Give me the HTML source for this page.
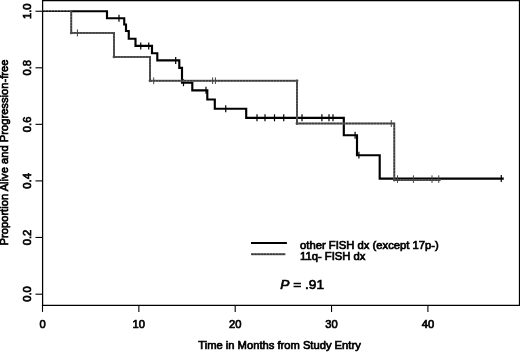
<!DOCTYPE html>
<html>
<head>
<meta charset="utf-8">
<title>Kaplan-Meier</title>
<style>
html,body{margin:0;padding:0;background:#fff;}
body{width:520px;height:352px;overflow:hidden;}
svg{display:block;will-change:transform;transform:translateZ(0);}
text{font-family:"Liberation Sans",Arial,Helvetica,sans-serif;fill:#000;stroke:#000;stroke-width:0.7px;}
</style>
</head>
<body>
<svg width="520" height="352" viewBox="0 0 520 352">
<rect x="0" y="0" width="520" height="352" fill="#fff"/>
<!-- frame -->
<g stroke="#000" stroke-width="1.25" fill="none">
<line x1="42.6" y1="0" x2="42.6" y2="305.4"/>
<line x1="41.9" y1="305.4" x2="520" y2="305.4"/>
<line x1="42" y1="0.5" x2="520" y2="0.5"/>
<line x1="519.5" y1="0" x2="519.5" y2="305.4"/>
</g>
<!-- y ticks -->
<g stroke="#000" stroke-width="1.1">
<line x1="35.5" y1="11.25" x2="42.5" y2="11.25"/>
<line x1="35.5" y1="67.8" x2="42.5" y2="67.8"/>
<line x1="35.5" y1="124.35" x2="42.5" y2="124.35"/>
<line x1="35.5" y1="180.9" x2="42.5" y2="180.9"/>
<line x1="35.5" y1="237.45" x2="42.5" y2="237.45"/>
<line x1="35.5" y1="294.2" x2="42.5" y2="294.2"/>
<!-- x ticks -->
<line x1="42.5" y1="305" x2="42.5" y2="311.9"/>
<line x1="138.85" y1="305" x2="138.85" y2="311.9"/>
<line x1="235.2" y1="305" x2="235.2" y2="311.9"/>
<line x1="331.55" y1="305" x2="331.55" y2="311.9"/>
<line x1="427.9" y1="305" x2="427.9" y2="311.9"/>
</g>
<!-- y tick labels -->
<g font-size="11.2" text-anchor="middle">
<text transform="translate(31,11.25) rotate(-90)">1.0</text>
<text transform="translate(31,67.8) rotate(-90)">0.8</text>
<text transform="translate(31,124.35) rotate(-90)">0.6</text>
<text transform="translate(31,180.9) rotate(-90)">0.4</text>
<text transform="translate(31,237.45) rotate(-90)">0.2</text>
<text transform="translate(31,294) rotate(-90)">0.0</text>
<text transform="translate(8.2,152.5) rotate(-90)">Proportion Alive and Progression-free</text>
<!-- x tick labels -->
<text x="42.5" y="327.9">0</text>
<text x="138.85" y="327.9">10</text>
<text x="235.2" y="327.9">20</text>
<text x="331.55" y="327.9">30</text>
<text x="427.9" y="327.9">40</text>
<text x="279.5" y="349">Time in Months from Study Entry</text>
</g>
<!-- black curve -->
<g stroke="#000" fill="none">
<path stroke-width="2.15" stroke-linejoin="miter" d="M70.6,11.25 H107 V18.25 H124.25 V24.5 H126 V31 H128.75 V38.75 H135.5 V45.9 H152 V53.2 H157.3 V60.4 H179.3 V67.9 H182 V82.7 H192.3 V90.3 H207.3 V99.5 H214.8 V108.75 H246.2 V117.8 H343.8 V135.2 H357 V155.2 H379.7 V178.6 H503.75"/>
<g stroke-width="1.2">
<line x1="119" y1="14.75" x2="119" y2="21.75"/>
<line x1="140.75" y1="42.4" x2="140.75" y2="49.4"/>
<line x1="148.75" y1="42.4" x2="148.75" y2="49.4"/>
<line x1="175.7" y1="56.9" x2="175.7" y2="63.9"/>
<line x1="183.5" y1="79.2" x2="183.5" y2="86.2"/>
<line x1="206" y1="86.8" x2="206" y2="93.8"/>
<line x1="225.75" y1="105.25" x2="225.75" y2="112.25"/>
<line x1="257" y1="114.3" x2="257" y2="121.3"/>
<line x1="265" y1="114.3" x2="265" y2="121.3"/>
<line x1="274.5" y1="114.3" x2="274.5" y2="121.3"/>
<line x1="283.75" y1="114.3" x2="283.75" y2="121.3"/>
<line x1="302" y1="114.3" x2="302" y2="121.3"/>
<line x1="321.9" y1="114.3" x2="321.9" y2="121.3"/>
<line x1="329" y1="114.3" x2="329" y2="121.3"/>
<line x1="333" y1="114.3" x2="333" y2="121.3"/>
<line x1="355.1" y1="131.7" x2="355.1" y2="138.7"/>
<line x1="358.9" y1="151.7" x2="358.9" y2="158.5"/>
<line x1="501.25" y1="175.1" x2="501.25" y2="182.1"/>
</g>
</g>
<!-- gray curve -->
<line x1="42.5" y1="11.25" x2="71" y2="11.25" stroke="#444" stroke-width="1.5"/>
<line x1="42.5" y1="11.25" x2="71" y2="11.25" stroke="#111" stroke-width="1.5" stroke-dasharray="2.4 0.7"/>
<g stroke="#444" fill="none">
<path stroke="#686868" stroke-width="2" d="M71.25,10.5 V32.9 H114 V56.9 H150 V80.8 H297 V123.5 H394.3 V180 H440.5"/>
<path stroke="#3c3c3c" stroke-width="1.4" stroke-dasharray="2.4 0.7" d="M71.25,10.5 V32.9 H114 V56.9 H150 V80.8 H297 V123.5 H394.3 V180 H440.5"/>
<g stroke-width="1">
<line x1="77.4" y1="29.4" x2="77.4" y2="36.4"/>
<line x1="153.7" y1="77.4" x2="153.7" y2="84.2"/>
<line x1="212.6" y1="77.4" x2="212.6" y2="84"/>
<line x1="215.4" y1="77.4" x2="215.4" y2="84"/>
<line x1="391.25" y1="120" x2="391.25" y2="127"/>
<line x1="397.5" y1="175.3" x2="397.5" y2="182.9"/>
<line x1="413.4" y1="175.3" x2="413.4" y2="182.9"/>
<line x1="432" y1="175.3" x2="432" y2="182.9"/>
<line x1="438.75" y1="175.3" x2="438.75" y2="182.9"/>
</g>
</g>
<g fill="#4a4a4a" stroke="none"><circle cx="71.25" cy="32.9" r="1.4"/><circle cx="114" cy="56.9" r="1.4"/><circle cx="150" cy="80.8" r="1.4"/><circle cx="297" cy="80.8" r="1.4"/><circle cx="297" cy="123.5" r="1.4"/><circle cx="394.3" cy="180" r="1.4"/></g>
<!-- legend -->
<line x1="251" y1="243" x2="286.9" y2="243" stroke="#000" stroke-width="2.2"/>
<line x1="251.2" y1="254.2" x2="285.4" y2="254.2" stroke="#686868" stroke-width="2"/>
<line x1="251.2" y1="254.2" x2="285.4" y2="254.2" stroke="#3c3c3c" stroke-width="1.4" stroke-dasharray="2.4 0.7"/>
<g font-size="11.25">
<text x="300" y="249">other FISH dx (except 17p-)</text>
<text x="300" y="260">11q- FISH dx</text>
</g>
<text x="280.3" y="288.8" font-size="13.7"><tspan font-style="italic">P</tspan> = .91</text>
</svg>
</body>
</html>
